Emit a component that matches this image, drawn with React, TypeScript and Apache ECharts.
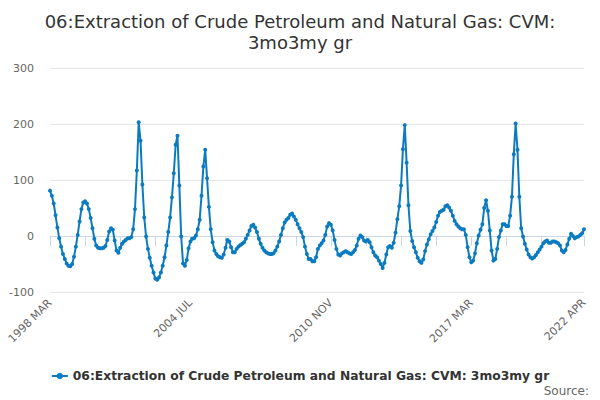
import React, { useEffect, useRef } from "react";
import * as echarts from "echarts";

const SERIES_NAME = "06:Extraction of Crude Petroleum and Natural Gas: CVM: 3mo3my gr";
const TITLE = "06:Extraction of Crude Petroleum and Natural Gas: CVM:\n3mo3my gr";
const MONTHS = ["JAN", "FEB", "MAR", "APR", "MAY", "JUN", "JUL", "AUG", "SEP", "OCT", "NOV", "DEC"];
const START_YEAR = 1998;
const START_MONTH = 2; // MAR
const Y_TICKS = [-100, 0, 100, 200, 300];

// 1998 MAR .. 2004 JAN
const values1998 = [
  81, 72, 58, 37, 15, -4, -19, -32, -41, -49,
  -53, -54, -50, -37, -19, 2, 26, 48, 60, 62,
  58, 48, 32, 14, -5, -17, -21, -22, -22, -21,
  -18, -7, 8, 14, 11, -8, -26, -30, -21, -14,
  -10, -7, -4, -4, -2, 12, 48, 117, 203, 170,
  92, 33, -1, -23, -39, -53, -65, -76, -78, -74,
  -65, -53, -38, -17, 7, 33, 69, 112, 163, 179,
  90,
];
// 2004 FEB .. 2009 NOV
const values2004 = [
  -1, -49, -53, -43, -22, -10, -5, -4, 1, 12,
  29, 72, 124, 154, 103, 52, 12, -11, -26, -32,
  -36, -38, -39, -33, -21, -7, -10, -20, -29, -29,
  -23, -19, -16, -14, -11, -5, 2, 10, 18, 20,
  15, 7, -5, -14, -21, -26, -29, -31, -32, -32,
  -31, -26, -19, -10, 2, 14, 24, 29, 32, 38,
  40, 35, 29, 21, 14, 7, -2, -19, -32, -41,
];
// 2009 DEC .. 2013 FEB
const values2009 = [
  -41, -45, -45, -38, -23, -17, -13, -8, 2, 17,
  23, 20, 10, -7, -23, -33, -35, -31, -29, -27,
  -29, -31, -32, -29, -25, -17, -5, 1, -2, -8,
  -10, -7, -11, -20, -29, -35, -38, -44, -50,
];
// 2013 MAR .. 2016 MAR
const values2013 = [
  -57, -48, -33, -20, -18, -21, -12, 6, 30, 53,
  90, 155, 198, 131, 55, 9, -9, -20, -29, -39,
  -45, -48, -42, -27, -15, -6, 3, 9, 15, 25,
  36, 43, 45, 47, 53, 55, 51,
];
// 2016 APR .. 2019 MAY
const values2016 = [
  45, 36, 27, 21, 17, 14, 12, 12, 2, -20,
  -38, -47, -44, -31, -13, 1, 11, 21, 50, 64,
  45, 10, -26, -44, -41, -23, -2, 10, 21, 21,
  18, 18, 36, 70, 146, 201, 154, 70,
];
// 2019 JUN .. 2022 APR
const values2019 = [
  14, -1, -14, -24, -33, -38, -40, -38, -34, -29,
  -24, -19, -13, -10, -8, -12, -12, -10, -10, -11,
  -13, -17, -26, -29, -25, -15, -5, 4, 0, -4,
  -2, -1, 2, 5, 12,
];

const values = [
  ...values1998,
  ...values2004,
  ...values2009,
  ...values2013,
  ...values2016,
  ...values2019,
];

const categories: string[] = values.map((_, i) => {
  const m = START_MONTH + i;
  return `${START_YEAR + Math.floor(m / 12)} ${MONTHS[m % 12]}`;
});

const FONT = "DejaVu Sans";

export default function App() {
  const ref = useRef<HTMLDivElement>(null);
  useEffect(() => {
    document.body.style.margin = "0";
    if (!ref.current) return;
    const chart = echarts.init(ref.current, undefined, { renderer: "svg" });
    const last = categories.length - 1;
    chart.setOption({
      animation: false,
      backgroundColor: "#ffffff",
      title: {
        text: TITLE,
        left: "center",
        top: 6,
        textStyle: {
          fontFamily: FONT,
          fontSize: 18,
          fontWeight: "normal",
          color: "#333333",
          lineHeight: 21,
        },
      },
      legend: {
        data: [SERIES_NAME],
        left: "center",
        top: 365,
        itemWidth: 16,
        itemHeight: 8,
        itemGap: 6,
        textStyle: {
          fontFamily: FONT,
          fontSize: 12.3,
          fontWeight: "bold",
          color: "#333333",
        },
      },
      graphic: [
        {
          type: "text",
          right: 11,
          top: 385,
          style: {
            text: "Source:",
            fontFamily: FONT,
            fontSize: 12,
            fill: "#666666",
          },
        },
      ],
      grid: { left: 50, right: 16, top: 68, bottom: 108 },
      xAxis: {
        type: "category",
        data: categories,
        boundaryGap: false,
        axisLine: { lineStyle: { color: "#ccd6eb", width: 1 } },
        axisTick: {
          show: true,
          length: 10,
          interval: (i: number) => (i % 19 === 0 && i <= 266) || i === last,
          lineStyle: { color: "#ccd6eb" },
        },
        axisLabel: {
          interval: (i: number) => i % 76 === 0 || i === last,
          rotate: 45,
          fontFamily: FONT,
          fontSize: 11,
          color: "#666666",
          margin: 9,
        },
        splitLine: { show: false },
      },
      yAxis: {
        type: "value",
        min: Y_TICKS[0],
        max: Y_TICKS[Y_TICKS.length - 1],
        interval: 100,
        axisLine: { show: false },
        axisTick: { show: false },
        axisLabel: {
          fontFamily: FONT,
          fontSize: 11,
          color: "#666666",
          margin: 16,
        },
        splitLine: { lineStyle: { color: "#e6e6e6", width: 1 } },
      },
      series: [
        {
          name: SERIES_NAME,
          type: "line",
          data: values,
          symbol: "circle",
          symbolSize: 4,
          showAllSymbol: true,
          itemStyle: { color: "#0b7bc1" },
          lineStyle: { color: "#0b7bc1", width: 2 },
        },
      ],
    });
    return () => chart.dispose();
  }, []);
  return <div ref={ref} style={{ width: 600, height: 400 }} />;
}
